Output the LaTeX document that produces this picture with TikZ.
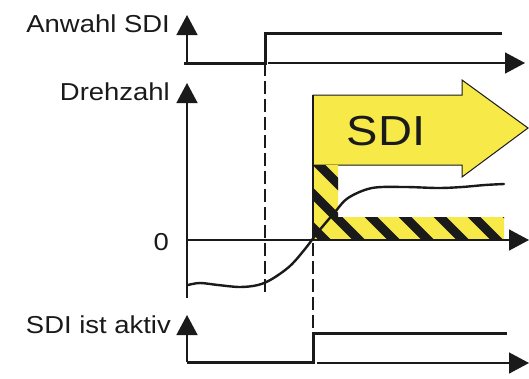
\documentclass[tikz,border=0pt]{standalone}
\usepackage{fontspec}
\setmainfont{Liberation Sans}[FakeStretch=1.12]
\usetikzlibrary{arrows.meta}
\definecolor{sdiyellow}{RGB}{247,233,72}
\definecolor{ink}{RGB}{26,26,26}
\begin{document}
\begin{tikzpicture}[x=1pt,y=-1pt,
  axisline/.style={draw=ink, line width=1.5pt, -{Triangle[length=20pt,width=21pt]}},
  signal/.style={draw=ink, line width=3pt, line join=miter},
  guide/.style={draw=ink, line width=1.5pt, dash pattern=on 13pt off 5pt},
  lbl/.style={font=\fontsize{24.5}{28}\selectfont, text=ink, inner sep=0pt, anchor=base east},
  curve/.style={draw=ink, line width=2.4pt, line cap=round},
  stripe/.style={draw=ink, line width=9pt},
]
\useasboundingbox (0,0) rectangle (529,378);
% labels
\node[lbl] (lanwahl) at (170,32) {Anwahl SDI};
\node[lbl] (ldreh) at (170,100) {Drehzahl};
\node[lbl] (lzero) at (169,250) {0};
\node[lbl] (laktiv) at (171,333) {SDI ist aktiv};
% coordinates
\coordinate (a0) at (187,63);
\coordinate (atop) at (187,15);
\coordinate (astart) at (268,63);
\coordinate (aend) at (525,63);
\coordinate (astep0) at (265,63);
\coordinate (astep1) at (265,33);
\coordinate (ahigh) at (502,33);
\coordinate (d0) at (187,285);
\coordinate (dlow) at (187,298);
\coordinate (dtop) at (187,83);
\coordinate (z0) at (187,240);
\coordinate (zend) at (529,240);
\coordinate (g1a) at (265,63);
\coordinate (g1b) at (265,292);
\coordinate (g2a) at (313,243);
\coordinate (g2b) at (313,333);
\coordinate (s0) at (187,362);
\coordinate (stop) at (187,315);
\coordinate (sstep0) at (313,362);
\coordinate (sstep1) at (313,333);
\coordinate (shigh) at (507,333);
\coordinate (sstart) at (317,363);
\coordinate (send) at (529,363);
% yellow arrow
\path[fill=sdiyellow, draw=ink, line width=1pt, line join=miter]
  (313,95) -- (462,95) -- (462,80) -- (528,128) -- (462,177) -- (462,165) -- (313,165) -- cycle;
\node[font=\fontsize{42}{46}\selectfont, text=ink, inner sep=0pt, anchor=base] (sdi) at (386,145) {SDI};
% hatched L
\fill[sdiyellow] (313,165) -- (338,165) -- (338,217) -- (504,217) -- (504,240) -- (313,240) -- cycle;
\begin{scope}
  \clip (313,165) -- (338,165) -- (338,217) -- (504,217) -- (504,240) -- (313,240) -- cycle;
  \foreach \xx in {279,314,348,383,417,452,486,521}
    \draw[stripe] (\xx-90,139) -- (\xx+30,259);
\end{scope}
\draw[ink, line width=1.5pt] (313,95) -- (313,240);
% Anwahl SDI
\draw[axisline] (a0) -- (atop);
\draw[axisline] (astart) -- (aend);
\draw[signal] (184,63) -- (astep0) -- (astep1) -- (ahigh);
% Drehzahl
\draw[axisline] (d0) -- (dtop);
\draw[guide] (d0) -- (dlow);
\draw[axisline] (z0) -- (zend);
\draw[guide] (g1a) -- (g1b);
\draw[guide] (g2a) -- (g2b);
\draw[curve] plot[smooth, tension=0.55] coordinates {
  (188,285) (200,283) (218,285) (240,287) (258,285) (272,279) (290,266) (305,249) (318,232)
  (335,212) (348,198) (372,188) (405,187) (438,188) (462,187) (485,185) (504,184)};
% SDI ist aktiv
\draw[axisline] (s0) -- (stop);
\draw[signal] (s0) -- (sstep0) -- (sstep1) -- (shigh);
\draw[axisline] (sstart) -- (send);
\end{tikzpicture}
\end{document}
